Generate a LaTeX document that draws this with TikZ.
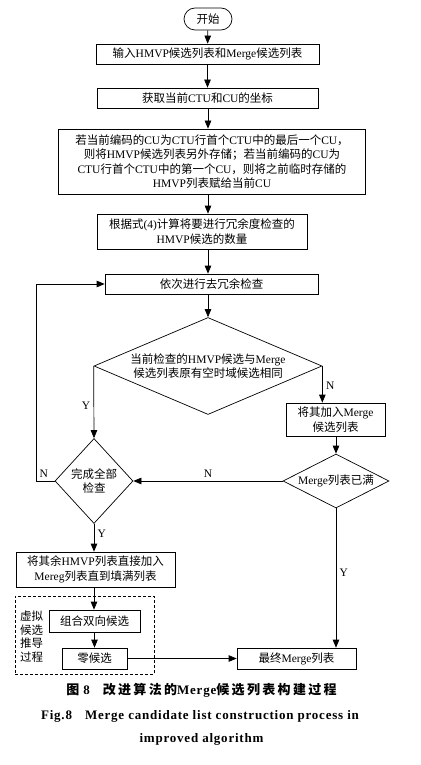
\documentclass[tikz,border=0pt]{standalone}
\usepackage{fontspec}
\setmainfont{Liberation Serif}
\newfontfamily\cjk{Noto Sans CJK SC}
\newfontfamily\caprm{Liberation Serif}[LetterSpace=6]
\newfontfamily\capzh{Noto Sans CJK SC}[LetterSpace=18]
\usetikzlibrary{arrows.meta,shapes.geometric,calc}

% Chinese runs switch to the CJK font by themselves
\newXeTeXintercharclass\zhclass
\newcount\zhcode
\newcommand\zhrange[2]{\zhcode=#1 \loop\XeTeXcharclass\zhcode=\zhclass \ifnum\zhcode<#2 \advance\zhcode by 1 \repeat}
\zhrange{"3000}{"303F}
\zhrange{"4E00}{"9FFF}
\zhrange{"FF00}{"FFEF}
\newcommand\zhon{\cjk}
\newcommand\zhoff{\rmfamily}
\XeTeXinterchartoks 0 \zhclass = {\zhon}
\XeTeXinterchartoks 4095 \zhclass = {\zhon}
\XeTeXinterchartoks \zhclass 0 = {\zhoff}
\XeTeXinterchartoks \zhclass 4095 = {\zhoff}

\newcommand\capfont{\fontsize{13}{15}\selectfont\bfseries\def\zhon{\capzh}\def\zhoff{\caprm}\caprm}

\begin{document}
\XeTeXinterchartokenstate=1
\begin{tikzpicture}[x=1pt, y=-1pt,
    font=\fontsize{11.5}{14.5}\selectfont,
    line width=0.7pt,
    proc/.style={draw, align=center, inner sep=1pt},
    term/.style={draw, rounded corners=11pt, minimum width=48pt, minimum height=22pt},
    dec/.style={draw, diamond, align=center, inner sep=0pt},
    edge/.style={-{Triangle[length=8pt, width=6.5pt]}}
]
\useasboundingbox (0,0) rectangle (420,765);

\node[term] (start) at (208,19) {开始};
\node[proc, minimum width=223pt, minimum height=20pt] (input) at (207.5,54) {输入HMVP候选列表和Merge候选列表};
\node[proc, minimum width=221pt, minimum height=20pt] (coord) at (207.5,98) {获取当前CTU和CU的坐标};
\node[proc, minimum width=307pt, minimum height=65pt] (store) at (212,161.5) {若当前编码的CU为CTU行首个CTU中的最后一个CU，\\则将HMVP候选列表另外存储；若当前编码的CU为\\CTU行首个CTU中的第一个CU，则将之前临时存储的\\HMVP列表赋给当前CU};
\node[proc, minimum width=210pt, minimum height=35pt] (count) at (202,231.5) {根据式(4)计算将要进行冗余度检查的\\HMVP候选的数量};
\node[proc, minimum width=213pt, minimum height=20pt] (check) at (211.5,284) {依次进行去冗余检查};
\node[dec, aspect=2.35, minimum width=228pt, minimum height=97pt] (same) at (208,366) {当前检查的HMVP候选与Merge\\候选列表原有空时域候选相同};
\node[proc, minimum width=99pt, minimum height=33pt] (add) at (335.5,419.5) {将其加入Merge\\候选列表};
\node[dec, aspect=0.92, minimum width=78pt, minimum height=85pt] (done) at (94,481) {完成全部\\检查};
\node[dec, aspect=1.96, minimum width=106pt, minimum height=54pt] (full) at (336,481) {Merge列表已满};
\node[proc, minimum width=159pt, minimum height=35pt] (fill) at (95.5,569.5) {将其余HMVP列表直接加入\\Mereg列表直到填满列表};

% virtual candidates
\node[draw, dash pattern=on 3pt off 2pt, minimum width=139pt, minimum height=78pt] (virt) at (84.5,635) {};
\node[align=center, inner sep=0pt, font=\fontsize{11.5}{13.5}\selectfont] (virtlbl) at (31.5,636.5) {虚拟\\候选\\推导\\过程};
\node[proc, minimum width=91pt, minimum height=22pt] (bi) at (94.5,621) {组合双向候选};
\node[proc, minimum width=65pt, minimum height=21pt] (zero) at (94.5,658.5) {零候选};
\node[proc, minimum width=119pt, minimum height=21pt] (final) at (296.5,658.5) {最终Merge列表};

\draw[edge] (start) -- (input);
\draw[edge] (input) -- (coord);
\draw[edge] (start |- coord.south) -- (start |- store.north);
\draw[edge] (start |- store.south) -- (start |- count.north);
\draw[edge] (start |- count.south) -- (start |- check.north);
\draw[edge] (start |- check.south) -- (same.north);
\draw[edge] (same.west) -- node[left, pos=.55] {Y} (done.north);
\draw[edge] (same.east) -- node[right, pos=.54] {N} (same.east |- add.north);
\draw[edge] (full.north |- add.south) -- (full.north);
\draw[edge] (full.west) -- node[above] {N} (done.east);
\draw[edge] (done.west) -- node[above, pos=.6] {N} ++(-18,0) |- (check.west);
\draw[edge] (done.south) -- node[right, pos=.35] {Y} (done.south |- fill.north);
\draw[edge] (done.south |- fill.south) -- (done.south |- bi.north);
\draw[edge] (bi) -- (zero);
\draw[edge] (zero) -- (final);
\draw[edge] (full.south) -- node[right, pos=.46] {Y} (full.south |- final.north);

% caption
\node[font=\capfont] (cap1) at (201.5,690) {图 8\quad 改进算法的Merge候选列表构建过程};
\node[font=\capfont] (cap2) at (200,716) {Fig.8\quad Merge candidate list construction process in};
\node[font=\capfont] (cap3) at (201.5,739) {improved algorithm};
\end{tikzpicture}
\end{document}
